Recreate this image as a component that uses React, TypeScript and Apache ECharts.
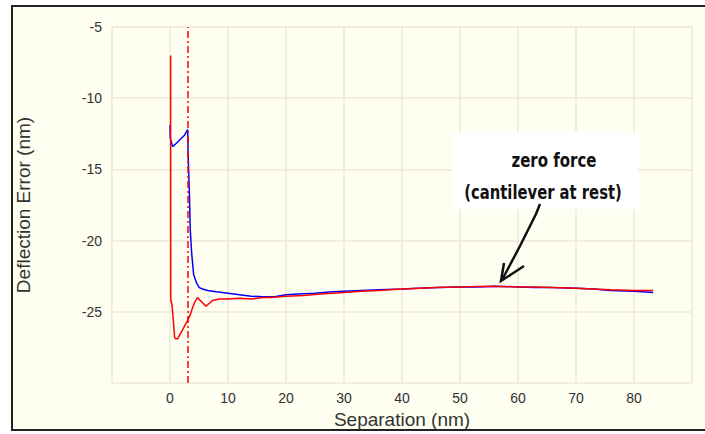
import React, { useEffect, useRef } from "react";
import * as echarts from "echarts";

const xTicks = [-10, 0, 10, 20, 30, 40, 50, 60, 70, 80, 90];
const yTicks = [-30, -25, -20, -15, -10, -5];

const blueX = [0, 0.05, 0.45, 1.0, 1.5, 2.0, 2.5, 3.05, 3.15, 3.33, 3.5, 3.74, 4.08, 4.6, 5.05, 5.6, 6.5, 8, 10, 12, 14, 16, 18, 20, 22, 25, 28, 30, 33, 36, 40, 43, 46, 50, 53, 56, 60, 63, 66, 70, 73, 76, 80, 83.3];
const blueY = [-11.9, -12.8, -13.4, -13.2, -13.0, -12.8, -12.6, -12.2, -14.3, -16.5, -19.3, -20.9, -22.4, -23.0, -23.3, -23.4, -23.5, -23.6, -23.7, -23.8, -23.9, -23.95, -23.95, -23.8, -23.75, -23.7, -23.6, -23.55, -23.5, -23.45, -23.4, -23.35, -23.3, -23.25, -23.25, -23.2, -23.25, -23.3, -23.3, -23.35, -23.4, -23.5, -23.55, -23.65];

const redX = [0.1, 0.12, 0.2, 0.35, 0.55, 0.8, 1.0, 1.3, 2.0, 2.5, 3.05, 3.5, 3.9, 4.3, 4.75, 5.2, 5.7, 6.2, 6.8, 7.35, 8.5, 9.9, 12, 14, 16, 17.4, 20, 23, 26, 30, 33, 36, 40, 43, 46, 50, 53, 56, 60, 63, 66, 70, 73, 76, 80, 83.3];
const redY = [-7.0, -24.0, -24.3, -24.5, -25.5, -26.8, -26.9, -26.9, -26.4, -26.0, -25.6, -25.2, -24.7, -24.3, -24.0, -24.2, -24.4, -24.6, -24.4, -24.2, -24.1, -24.1, -24.05, -24.1, -24.0, -24.0, -23.9, -23.85, -23.75, -23.65, -23.55, -23.5, -23.4, -23.35, -23.3, -23.25, -23.22, -23.2, -23.25, -23.25, -23.3, -23.35, -23.4, -23.45, -23.5, -23.5];

const contactX = 3.1;

const xName = "Separation (nm)";
const yName = "Deflection Error (nm)";
const note1 = "zero force";
const note2 = "(cantilever at rest)";

export default function App() {
  const ref = useRef<HTMLDivElement>(null);
  useEffect(() => {
    if (!ref.current) return;
    const chart = echarts.init(ref.current, undefined, { renderer: "svg" });
    const labelStyle = { color: "#333", fontFamily: "Liberation Sans, Arial, sans-serif", fontSize: 14 };
    const gridLine = { show: true, lineStyle: { color: "#ECE8DA", width: 1.5 } };
    const noteStyle = {
      align: "center", verticalAlign: "middle", fill: "#111",
      fontSize: 20, fontWeight: "bold", fontFamily: "DejaVu Sans",
    };
    chart.setOption({
      animation: false,
      backgroundColor: "#ffffff",
      grid: { left: 112, right: 13, top: 27, bottom: 51, containLabel: false },
      xAxis: {
        type: "value",
        min: xTicks[0],
        max: xTicks[xTicks.length - 1],
        interval: 10,
        axisLine: { show: false },
        axisTick: { show: false },
        splitLine: gridLine,
        axisLabel: {
          ...labelStyle,
          margin: 8,
          formatter: (v: number) => (v === xTicks[0] || v === xTicks[xTicks.length - 1] ? "" : String(v)),
        },
        name: xName,
        nameLocation: "middle",
        nameGap: 26,
        nameTextStyle: { color: "#333", fontFamily: "Liberation Sans, Arial, sans-serif", fontSize: 19 },
      },
      yAxis: {
        type: "value",
        min: yTicks[0],
        max: yTicks[yTicks.length - 1],
        interval: 5,
        axisLine: { show: false },
        axisTick: { show: false },
        splitLine: gridLine,
        axisLabel: {
          ...labelStyle,
          margin: 10,
          formatter: (v: number) => (v === yTicks[0] ? "" : String(v)),
        },
        name: yName,
        nameLocation: "middle",
        nameRotate: 90,
        nameGap: 79,
        nameTextStyle: { color: "#333", fontFamily: "Liberation Sans, Arial, sans-serif", fontSize: 19 },
      },
      graphic: [
        {
          type: "rect",
          z: -10,
          shape: { x: 12, y: 6, width: 720, height: 424 },
          style: { fill: "#FEFEF1", stroke: "#222", lineWidth: 2 },
        },
        {
          type: "rect",
          z: 100,
          shape: { x: 452, y: 132, width: 186, height: 77 },
          style: { fill: "#ffffff" },
        },
        {
          type: "text",
          z: 101,
          x: 554,
          y: 160,
          scaleX: 0.75,
          style: { ...noteStyle, text: note1, x: 0, y: 0 },
        },
        {
          type: "text",
          z: 101,
          x: 543,
          y: 192,
          scaleX: 0.74,
          style: { ...noteStyle, text: note2, x: 0, y: 0 },
        },
        {
          type: "polyline",
          z: 101,
          shape: { points: [[540, 204], [536, 214], [520, 246], [502, 280]] },
          style: { stroke: "#111", lineWidth: 2.5, fill: "none" },
        },
        {
          type: "polyline",
          z: 101,
          shape: { points: [[504, 263], [501, 281], [524, 266]] },
          style: { stroke: "#111", lineWidth: 2.5, fill: "none" },
        },
      ],
      series: [
        {
          type: "line",
          data: blueX.map((x, i) => [x, blueY[i]]),
          showSymbol: false,
          symbol: "none",
          lineStyle: { color: "#0000FF", width: 1.5 },
          z: 2,
        },
        {
          type: "line",
          data: redX.map((x, i) => [x, redY[i]]),
          showSymbol: false,
          symbol: "none",
          lineStyle: { color: "#FF0000", width: 1.5 },
          z: 3,
          markLine: {
            silent: true,
            symbol: "none",
            label: { show: false },
            lineStyle: { color: "#FF0000", width: 1.5, type: [7, 3, 2, 3] },
            data: [{ xAxis: contactX }],
          },
        },
      ],
    });
    return () => chart.dispose();
  }, []);
  return <div ref={ref} style={{ position: "absolute", left: 0, top: 0, width: 705, height: 434 }} />;
}
